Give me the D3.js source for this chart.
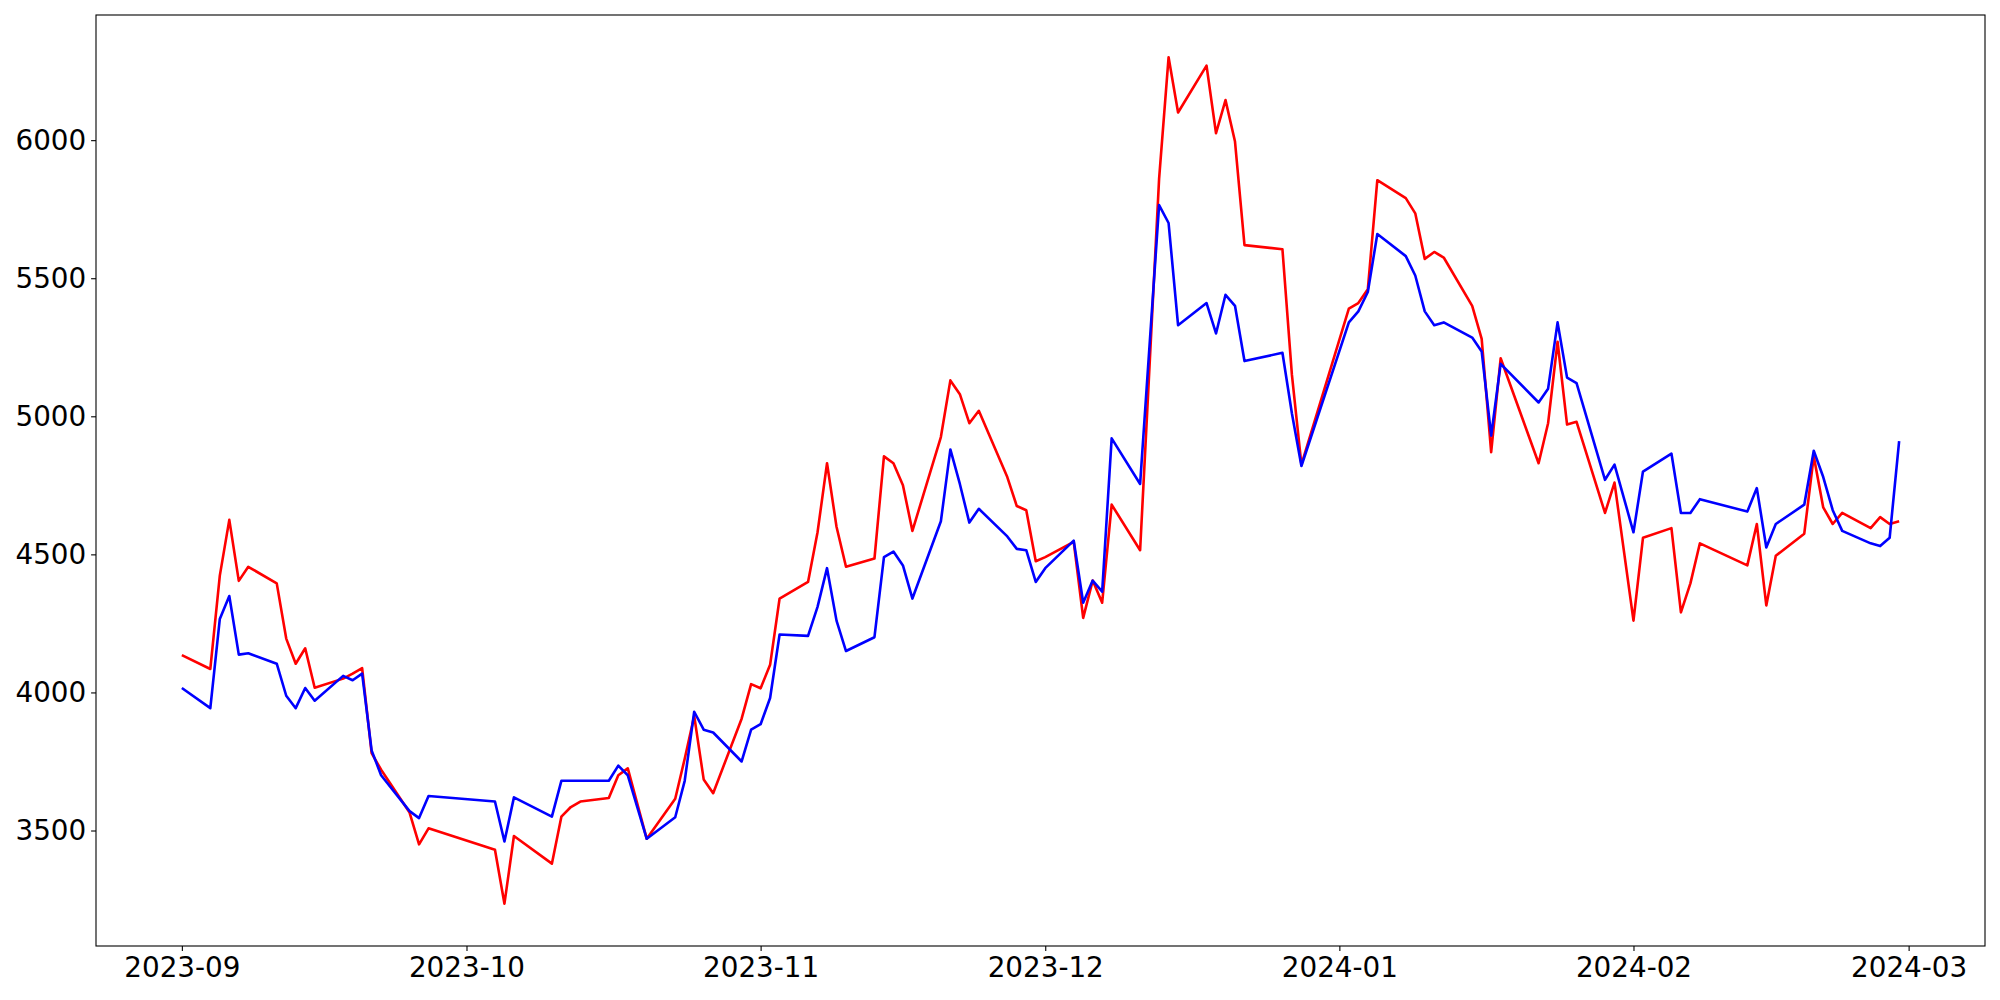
<!DOCTYPE html>
<html>
<head>
<meta charset="utf-8">
<script src="https://cdn.jsdelivr.net/npm/d3@7"></script>
<style>
  html, body { margin: 0; padding: 0; background: #fff; }
  svg { display: block; }
  text { font-family: "DejaVu Sans", sans-serif; }
</style>
</head>
<body>
<svg id="chart" width="2000" height="1000"></svg>
<script>
const dates = [
  "2023-09-01","2023-09-04","2023-09-05","2023-09-06","2023-09-07","2023-09-08",
  "2023-09-11","2023-09-12","2023-09-13","2023-09-14","2023-09-15",
  "2023-09-18","2023-09-19","2023-09-20","2023-09-21","2023-09-22",
  "2023-09-25","2023-09-26","2023-09-27",
  "2023-10-04","2023-10-05","2023-10-06",
  "2023-10-10","2023-10-11","2023-10-12","2023-10-13",
  "2023-10-16","2023-10-17","2023-10-18","2023-10-20",
  "2023-10-23","2023-10-24","2023-10-25","2023-10-26","2023-10-27",
  "2023-10-30","2023-10-31",
  "2023-11-01","2023-11-02","2023-11-03",
  "2023-11-06","2023-11-07","2023-11-08","2023-11-09","2023-11-10",
  "2023-11-13","2023-11-14","2023-11-15","2023-11-16","2023-11-17",
  "2023-11-20","2023-11-21","2023-11-22","2023-11-23","2023-11-24",
  "2023-11-27","2023-11-28","2023-11-29","2023-11-30",
  "2023-12-01","2023-12-04","2023-12-05","2023-12-06","2023-12-07","2023-12-08",
  "2023-12-11","2023-12-13","2023-12-14","2023-12-15",
  "2023-12-18","2023-12-19","2023-12-20","2023-12-21","2023-12-22",
  "2023-12-26","2023-12-27","2023-12-28",
  "2024-01-02","2024-01-03","2024-01-04","2024-01-05",
  "2024-01-08","2024-01-09","2024-01-10","2024-01-11","2024-01-12",
  "2024-01-15","2024-01-16","2024-01-17","2024-01-18",
  "2024-01-22","2024-01-23","2024-01-24","2024-01-25","2024-01-26",
  "2024-01-29","2024-01-30",
  "2024-02-01","2024-02-02",
  "2024-02-05","2024-02-06","2024-02-07","2024-02-08",
  "2024-02-13","2024-02-14","2024-02-15","2024-02-16",
  "2024-02-19","2024-02-20","2024-02-21","2024-02-22","2024-02-23",
  "2024-02-26","2024-02-27","2024-02-28","2024-02-29"
];

const redValues = [
  4135, 4085, 4423, 4625, 4404, 4455, 4395, 4195, 4104, 4160, 4017, 4050, 4068, 4088, 3780, 3720, 3565, 3450, 3508,
  3430, 3235, 3480, 3380, 3550, 3585, 3605, 3618, 3700, 3725, 3470, 3615, 3760, 3915, 3685, 3635, 3905, 4030,
  4015, 4100, 4340, 4400, 4580, 4830, 4600, 4455, 4485, 4855, 4830, 4750, 4585, 4925, 5130, 5080, 4975, 5020, 4780, 4675, 4660, 4475,
  4490, 4545, 4270, 4405, 4325, 4680, 4515, 5860, 6300, 6100, 6270, 6025, 6145, 5995, 5620, 5605, 5150, 4825,
  5390, 5410, 5460, 5855, 5790, 5735, 5570, 5595, 5575, 5400, 5280, 4870, 5210, 4830, 4975, 5270, 4970, 4980, 4650, 4760,
  4260, 4560, 4595, 4290, 4395, 4540, 4460, 4610, 4315, 4495, 4575, 4855, 4670, 4610, 4650, 4595, 4635, 4610, 4620
];

const blueValues = [
  4016, 3943, 4266, 4349, 4137, 4142, 4104, 3988, 3943, 4016, 3970, 4060, 4044, 4068, 3790, 3700, 3570, 3545, 3625,
  3605, 3460, 3620, 3550, 3680, 3680, 3680, 3680, 3735, 3700, 3470, 3548, 3680, 3930, 3865, 3855, 3750, 3865,
  3885, 3980, 4210, 4205, 4310, 4450, 4260, 4150, 4200, 4490, 4510, 4460, 4340, 4620, 4880, 4755, 4615, 4665, 4565, 4520, 4515, 4400,
  4450, 4550, 4325, 4405, 4365, 4920, 4755, 5765, 5700, 5330, 5410, 5300, 5440, 5400, 5200, 5230, 5010, 4820,
  5340, 5380, 5450, 5660, 5580, 5510, 5380, 5330, 5340, 5285, 5235, 4930, 5190, 5050, 5100, 5340, 5140, 5120, 4770, 4825,
  4580, 4800, 4865, 4650, 4650, 4700, 4655, 4740, 4525, 4610, 4680, 4875, 4780, 4660, 4585, 4540, 4530, 4560, 4910
];

const yTickValues = [3500, 4000, 4500, 5000, 5500, 6000];
const xTickDates = ["2023-09-01","2023-10-01","2023-11-01","2023-12-01","2024-01-01","2024-02-01","2024-03-01"];

const parse = d3.timeParse("%Y-%m-%d");
const X = dates.map(parse);
const red = X.map((d, i) => ({ date: d, v: redValues[i] }));
const blue = X.map((d, i) => ({ date: d, v: blueValues[i] }));

const W = 2000, H = 1000;
const m = { left: 96, right: 15, top: 15, bottom: 54 };
const iw = W - m.left - m.right, ih = H - m.top - m.bottom;

// matplotlib-like 5% margins
const xExt = d3.extent(X);
const xSpan = xExt[1] - xExt[0];
const allV = redValues.concat(blueValues);
const yExt = d3.extent(allV);
const ySpan = yExt[1] - yExt[0];

const x = d3.scaleTime()
  .domain([new Date(+xExt[0] - 0.05 * xSpan), new Date(+xExt[1] + 0.05 * xSpan)])
  .range([0, iw]);
const y = d3.scaleLinear()
  .domain([yExt[0] - 0.05 * ySpan, yExt[1] + 0.05 * ySpan])
  .range([ih, 0]);

const svg = d3.select("#chart");
const g = svg.append("g").attr("transform", `translate(${m.left},${m.top})`);

const line = d3.line().x(d => x(d.date)).y(d => y(d.v));

g.append("path").datum(red)
  .attr("fill", "none").attr("stroke", "#ff0000").attr("stroke-width", 2.6)
  .attr("stroke-linejoin", "round").attr("d", line);
g.append("path").datum(blue)
  .attr("fill", "none").attr("stroke", "#0000ff").attr("stroke-width", 2.6)
  .attr("stroke-linejoin", "round").attr("d", line);

const fs = 27.8;
const xAxis = d3.axisBottom(x)
  .tickValues(xTickDates.map(parse))
  .tickFormat(d3.timeFormat("%Y-%m"))
  .tickSizeInner(4.9).tickSizeOuter(0).tickPadding(4.9);
const yAxis = d3.axisLeft(y)
  .tickValues(yTickValues)
  .tickFormat(d3.format("d"))
  .tickSizeInner(4.9).tickSizeOuter(0).tickPadding(4.9);

const gx = g.append("g").attr("transform", `translate(0,${ih})`).call(xAxis);
const gy = g.append("g").call(yAxis);
[gx, gy].forEach(a => {
  a.select(".domain").remove();
  a.selectAll(".tick line").attr("stroke", "#000").attr("stroke-width", 1.1);
  a.selectAll(".tick text").attr("fill", "#000").style("font-size", fs + "px")
    .style("font-family", "'DejaVu Sans', sans-serif");
});
gx.selectAll(".tick text").attr("dy", "0.76em");

g.append("rect").attr("x", 0).attr("y", 0).attr("width", iw).attr("height", ih)
  .attr("fill", "none").attr("stroke", "#000").attr("stroke-width", 1.1);
</script>
</body>
</html>
